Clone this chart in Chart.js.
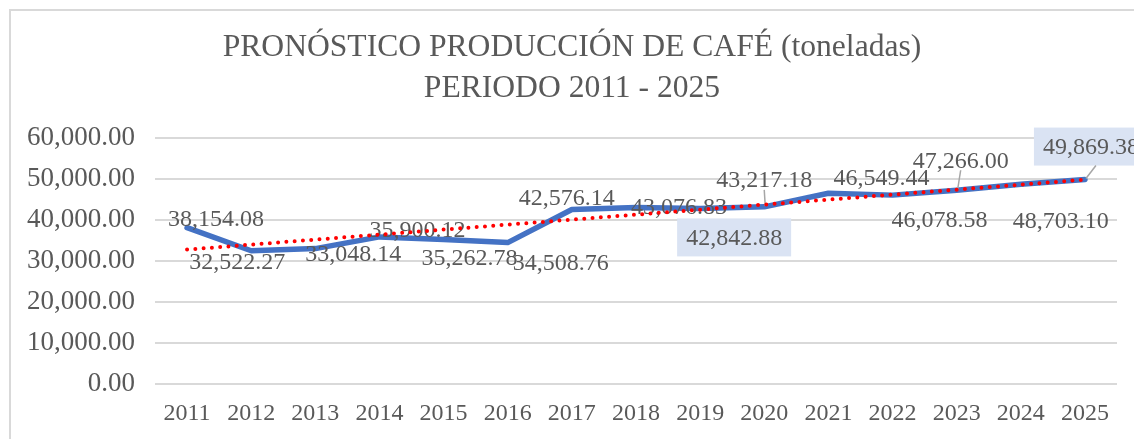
<!DOCTYPE html>
<html>
<head>
<meta charset="utf-8">
<script src="https://cdn.jsdelivr.net/npm/chart.js@4.4.1/dist/chart.umd.min.js"></script>
<style>
  html, body { margin: 0; padding: 0; background: #ffffff; overflow: hidden; }
  #wrap { position: relative; width: 1134px; height: 439px; }
</style>
</head>
<body>
<div id="wrap"><canvas id="c" width="1134" height="439"></canvas></div>
<script>
// ---- data ----
const categories = ['2011','2012','2013','2014','2015','2016','2017','2018','2019','2020','2021','2022','2023','2024','2025'];
const production = [38154.08, 32522.27, 33048.14, 35900.12, 35262.78, 34508.76, 42576.14, 43076.83, 42842.88, 43217.18, 46549.44, 46078.58, 47266.00, 48703.10, 49869.38];
const trendStart = 32800;   // linear trend value read at 2011
const trendEnd = 49850;     // linear trend value read at 2025
const yTickLabels = ['0.00','10,000.00','20,000.00','30,000.00','40,000.00','50,000.00','60,000.00'];
const titleLines = ['PRONÓSTICO PRODUCCIÓN DE CAFÉ (toneladas)', 'PERIODO 2011 - 2025'];

const trendData = categories.map((c, i) => i === 0 ? trendStart : (i === categories.length - 1 ? trendEnd : null));

const FONT = "'Liberation Serif', 'Times New Roman', Times, serif";
const GREY = '#595959';

const fmt = v => v.toLocaleString('en-US', { minimumFractionDigits: 2, maximumFractionDigits: 2 });

// label placement (style/position config, relative to each point)
const placement = [
  { dx: 29, dy: -9 },
  { dx: -14, dy: 11 },
  { dx: 38, dy: 5 },
  { dx: 38, dy: -7 },
  { dx: 26, dy: 18 },
  { dx: 53, dy: 20 },
  { dx: -5, dy: -12 },
  { dx: 43, dy: -1 },
  { dx: 34, dy: 29, box: true },
  { dx: 0, dy: -27, leader: true },
  { dx: 53, dy: -15 },
  { dx: 47, dy: 25 },
  { dx: 4, dy: -30, leader: true },
  { dx: 40, dy: 36 },
  { dx: 6, dy: -33, box: true, leader: true }
];

const framePlugin = {
  id: 'frame',
  beforeDraw(chart) {
    const ctx = chart.ctx;
    ctx.save();
    ctx.strokeStyle = '#d9d9d9';
    ctx.lineWidth = 2;
    ctx.beginPath();
    ctx.moveTo(10, chart.height + 2);
    ctx.lineTo(10, 10);
    ctx.lineTo(chart.width + 2, 10);
    ctx.stroke();
    ctx.restore();
  },
  afterDraw(chart) {
    const ctx = chart.ctx;
    ctx.save();
    ctx.font = '31.6px ' + FONT;
    ctx.fillStyle = GREY;
    ctx.textAlign = 'center';
    ctx.textBaseline = 'middle';
    ctx.fillText(titleLines[0], 572, 48);
    ctx.fillText(titleLines[1], 572, 89);
    ctx.restore();
  }
};

const labelPlugin = {
  id: 'valueLabels',
  afterDatasetDraw(chart, args) {
    if (args.index !== 0) return;
    const ctx = chart.ctx;
    const meta = chart.getDatasetMeta(0);
    ctx.save();
    ctx.font = '24px ' + FONT;
    ctx.textAlign = 'center';
    ctx.textBaseline = 'middle';
    meta.data.forEach((pt, i) => {
      const p = placement[i];
      const text = fmt(production[i]);
      const lx = pt.x + p.dx;
      const ly = pt.y + p.dy;
      const w = ctx.measureText(text).width;
      if (p.box) {
        ctx.fillStyle = '#dae3f3';
        ctx.fillRect(lx - w / 2 - 9, ly - 19, w + 18, 38);
      }
      if (p.leader) {
        ctx.strokeStyle = '#a6a6a6';
        ctx.lineWidth = 1.5;
        ctx.beginPath();
        const startY = p.box ? ly + 19 : ly + 10;
        ctx.moveTo(lx + (p.box ? 5 : 0), startY);
        ctx.lineTo(pt.x + 1, pt.y - 1);
        ctx.stroke();
      }
      ctx.fillStyle = GREY;
      ctx.fillText(text, lx, ly + 1);
    });
    ctx.restore();
  }
};

new Chart(document.getElementById('c'), {
  type: 'line',
  data: {
    labels: categories,
    datasets: [
      {
        label: 'Producción',
        data: production,
        borderColor: '#4472c4',
        borderWidth: 5.5,
        pointRadius: 0,
        tension: 0,
        borderJoinStyle: 'round',
        borderCapStyle: 'round',
        order: 2
      },
      {
        label: 'Tendencia',
        data: trendData,
        spanGaps: true,
        borderColor: '#ff0000',
        borderWidth: 4,
        borderDash: [0, 8.3],
        borderCapStyle: 'round',
        pointRadius: 0,
        tension: 0,
        order: 1
      }
    ]
  },
  options: {
    responsive: false,
    animation: false,
    devicePixelRatio: 1,
    layout: { padding: { left: 0, right: 17, top: 138, bottom: -4 } },
    plugins: {
      legend: { display: false },
      tooltip: { enabled: false },
      title: { display: false }
    },
    scales: {
      x: {
        offset: true,
        grid: { display: false, drawTicks: false },
        border: { display: false },
        ticks: {
          color: GREY,
          font: { family: FONT, size: 24 },
          padding: 15,
          maxRotation: 0,
          autoSkip: false
        }
      },
      y: {
        min: 0,
        max: 60000,
        afterFit(scale) { scale.width = 155; },
        afterBuildTicks(scale) {
          scale.ticks = yTickLabels.map((t, i) => ({ value: i * 10000 }));
        },
        grid: { color: '#d9d9d9', lineWidth: 2, drawTicks: false },
        border: { display: false },
        ticks: {
          color: GREY,
          font: { family: FONT, size: 27 },
          padding: 20,
          callback: (v, i) => yTickLabels[i]
        }
      }
    }
  },
  plugins: [framePlugin, labelPlugin]
});
</script>
</body>
</html>
